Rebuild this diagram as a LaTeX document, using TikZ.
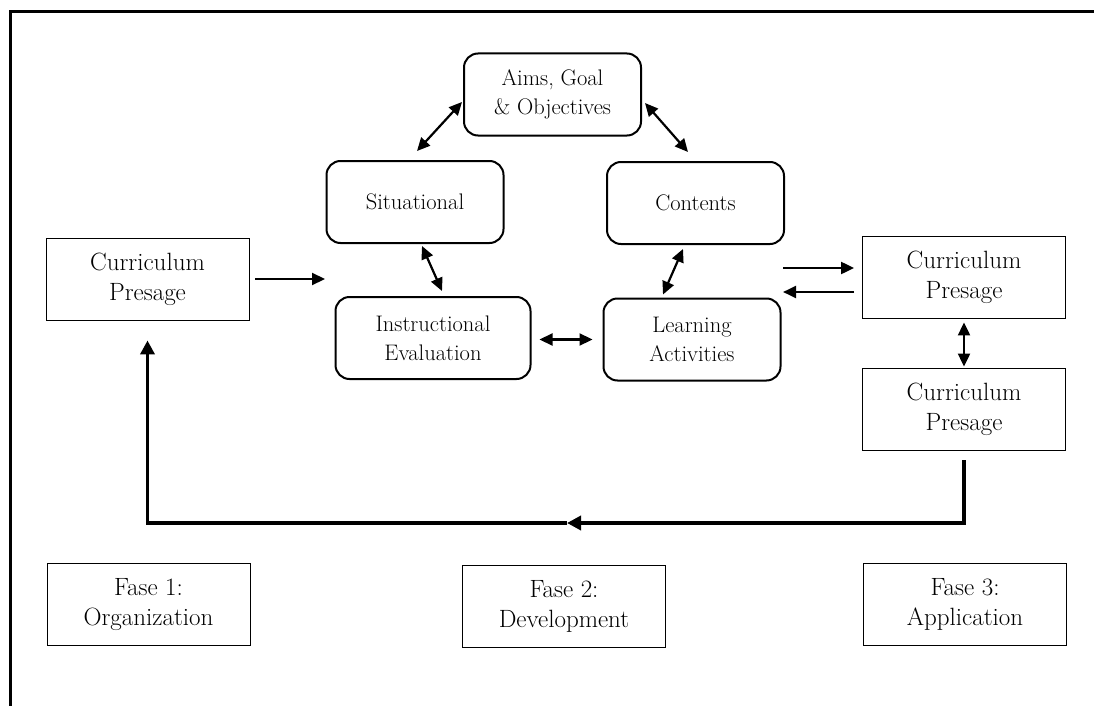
\documentclass[tikz,border=0pt]{standalone}
\usepackage{tikz}
\usetikzlibrary{arrows.meta}

\begin{document}
\begin{tikzpicture}[x=1pt,y=-1pt,
    sqbox/.style={draw, line width=0.9pt, minimum width=203pt, minimum height=82pt,
      align=center, font=\fontsize{25}{30}\selectfont},
    rbox/.style={draw, line width=2pt, rounded corners=14pt, minimum width=177pt,
      minimum height=82pt, align=center, font=\fontsize{22.5}{29}\selectfont},
    dbl/.style={{Triangle[length=13pt,width=12pt]}-{Triangle[length=13pt,width=12pt]}, line width=2.2pt},
    sgl/.style={-{Triangle[length=13pt,width=12pt]}, line width=2.2pt},
    fback/.style={-{Triangle[length=14pt,width=14pt]}, line width=3.5pt}]
    \useasboundingbox (0,0) rectangle (1094,706);
    \draw[line width=3pt] (10,706) -- (10,12) -- (1094,12);

        \node[rbox] (aims) at (552.5,94.5) {Aims, Goal\\\& Objectives};
        \node[rbox] (sit) at (415,202) {Situational};
        \node[rbox] (con) at (695.5,203) {Contents};
        \node[rbox, minimum width=195pt] (inst) at (433,338) {Instructional\\Evaluation};
        \node[rbox] (learn) at (692,339.5) {Learning\\Activities};

        \node[sqbox] (lpres) at (147.5,279) {Curriculum\\Presage};
        \node[sqbox] (rpres) at (964,277) {Curriculum\\Presage};
        \node[sqbox] (bpres) at (964,409) {Curriculum\\Presage};

        \node[sqbox] (fase1) at (148.5,604.5) {Fase 1:\\Organization};
        \node[sqbox] (fase2) at (564,606) {Fase 2:\\Development};
        \node[sqbox] (fase3) at (965,604) {Fase 3:\\Application};

        \coordinate (ltip) at (325,279);
        \coordinate (fbmid) at (567,523);

    \draw[dbl] ([xshift=2pt,yshift=9pt]sit.north) -- ([xshift=-1pt,yshift=-7.5pt]aims.west);
    \draw[dbl] ([xshift=3pt,yshift=-8.5pt]aims.east) -- ([xshift=-7.5pt,yshift=9pt]con.north);
    \draw[dbl] ([xshift=7pt,yshift=-2pt]sit.south) -- ([xshift=9pt,yshift=5pt]inst.north);
    \draw[dbl] ([xshift=-12.5pt,yshift=-4pt]con.south) -- ([xshift=-29pt,yshift=3pt]learn.north);
    \draw[dbl] ([xshift=8pt,yshift=-1.5pt]inst.east) -- ([xshift=-10pt]learn.west);

    \draw[sgl] ([xshift=6pt]lpres.east) -- (ltip);
    \draw[sgl] ([xshift=-79pt,yshift=9pt]rpres.west) -- ([xshift=-8pt,yshift=9pt]rpres.west);
    \draw[sgl] ([xshift=-8pt,yshift=-15pt]rpres.west) -- ([xshift=-79pt,yshift=-15pt]rpres.west);
    \draw[dbl] ([yshift=-4pt]rpres.south) -- ([yshift=1pt]bpres.north);

    \draw[fback] ([yshift=-10pt]bpres.south) |- (fbmid);
    \draw[fback] (fbmid) -| ([yshift=-20pt]lpres.south);
\end{tikzpicture}
\end{document}
